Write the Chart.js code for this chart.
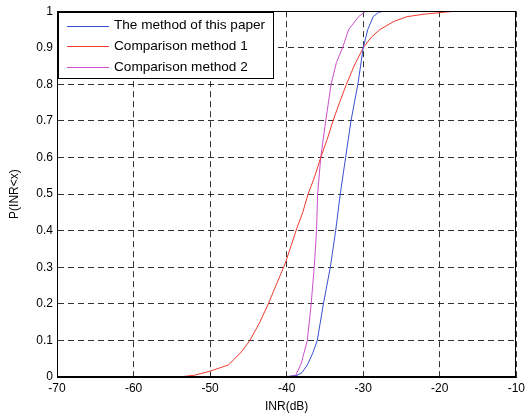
<!DOCTYPE html>
<html>
<head>
<meta charset="utf-8">
<script src="https://cdn.jsdelivr.net/npm/chart.js@4.4.1/dist/chart.umd.min.js"></script>
<style>
  html, body { margin: 0; padding: 0; background: #fff; }
  #wrap { width: 529px; height: 419px; }
</style>
</head>
<body>
<div id="wrap"><canvas id="myChart" width="529" height="419"></canvas></div>
<script>
// series names
var seriesNames = ["The method of this paper", "Comparison method 1", "Comparison method 2"];

// x ticks / y ticks
var xTicks = [-70, -60, -50, -40, -30, -20, -10];
var yTicks = [0, 0.1, 0.2, 0.3, 0.4, 0.5, 0.6, 0.7, 0.8, 0.9, 1];

// blue curve - method of this paper
var blueX = [-41.2, -38.8, -38.0, -37.3, -36.6, -36.0, -35.2, -34.3, -33.6, -33.0, -32.3, -31.6, -30.7, -30.0, -29.4, -28.7, -28.0, -27.3, -26.0];
var blueY = [0, 0.003, 0.012, 0.033, 0.065, 0.10, 0.20, 0.30, 0.40, 0.50, 0.60, 0.70, 0.80, 0.90, 0.95, 0.985, 0.997, 1, 1];

// red curve - comparison method 1
var redX = [-63.7, -54.0, -52.0, -50.0, -47.6, -45.9, -44.8, -43.5, -42.4, -41.3, -40.2, -39.4, -38.7, -37.9, -37.2, -36.3, -35.55, -34.7, -33.95, -33.1, -32.2, -31.2, -30.0, -28.9, -27.8, -26.0, -24.3, -22.0, -20.0, -18.5, -17.5];
var redY = [0, 0, 0.005, 0.016, 0.033, 0.069, 0.10, 0.15, 0.20, 0.255, 0.31, 0.36, 0.405, 0.45, 0.50, 0.55, 0.60, 0.65, 0.70, 0.75, 0.80, 0.85, 0.90, 0.93, 0.95, 0.972, 0.985, 0.992, 0.996, 0.999, 1];

// magenta curve - comparison method 2
var magX = [-40.0, -38.8, -38.1, -37.3, -36.8, -36.4, -36.1, -35.95, -35.55, -34.9, -34.2, -33.5, -32.7, -31.9, -30.6, -29.7, -29.0];
var magY = [0, 0.005, 0.037, 0.10, 0.20, 0.30, 0.40, 0.50, 0.60, 0.70, 0.80, 0.86, 0.90, 0.95, 0.985, 1, 1];

var colors = ["#3a4fd0", "#f03a2e", "#cc4fcc"];

function toPoints(xs, ys) {
  var pts = [];
  for (var i = 0; i < xs.length; i++) {
    pts.push({x: xs[i], y: ys[i]});
  }
  return pts;
}

var FONT = "'Liberation Sans', Arial, sans-serif";

// box around plot + legend inside top-left
var boxPlugin = {
  id: "boxPlugin",
  afterDraw: function (chart) {
    var ctx = chart.ctx;
    var a = chart.chartArea;
    ctx.save();
    ctx.strokeStyle = "#000";
    ctx.lineWidth = 1;
    ctx.setLineDash([]);
    ctx.strokeRect(Math.round(a.left) + 0.5, Math.round(a.top) + 0.5,
      Math.round(a.right - a.left) - 1, Math.round(a.bottom - a.top) - 1);

    // legend
    var lx = a.left + 1, ly = a.top + 1, lw = 215, lh = 66;
    ctx.fillStyle = "#fff";
    ctx.fillRect(lx, ly, lw, lh);
    ctx.strokeRect(Math.round(lx) + 0.5, Math.round(ly) + 0.5, lw, lh);
    ctx.font = "13.6px " + FONT;
    ctx.textBaseline = "middle";
    ctx.textAlign = "left";
    for (var i = 0; i < chart.data.datasets.length; i++) {
      var ds = chart.data.datasets[i];
      var yy = ly + 13.5 + i * 20.7;
      ctx.strokeStyle = ds.borderColor;
      ctx.beginPath();
      ctx.moveTo(lx + 9, Math.round(yy) + 0.5);
      ctx.lineTo(lx + 51, Math.round(yy) + 0.5);
      ctx.stroke();
      ctx.fillStyle = "#000";
      ctx.fillText(ds.label, lx + 56, yy);
    }
    ctx.restore();
  }
};

new Chart("myChart", {
  type: "scatter",
  data: {
    datasets: [
      { label: seriesNames[0], data: toPoints(blueX, blueY), borderColor: colors[0], showLine: true, borderWidth: 1, pointRadius: 0, tension: 0 },
      { label: seriesNames[1], data: toPoints(redX, redY), borderColor: colors[1], showLine: true, borderWidth: 1, pointRadius: 0, tension: 0 },
      { label: seriesNames[2], data: toPoints(magX, magY), borderColor: colors[2], showLine: true, borderWidth: 1, pointRadius: 0, tension: 0 }
    ]
  },
  plugins: [boxPlugin],
  options: {
    responsive: false,
    animation: false,
    layout: { padding: { top: 11, right: 8, left: 0, bottom: 0 } },
    plugins: {
      legend: { display: false },
      tooltip: { enabled: false }
    },
    scales: {
      x: {
        type: "linear",
        min: -70, max: -10,
        afterBuildTicks: function (scale) { scale.ticks = xTicks.map(function (v) { return {value: v}; }); },
        afterFit: function (scale) { scale.height = 42; },
        grid: { color: "rgba(0,0,0,0.8)", lineWidth: 1, drawTicks: false },
        border: { display: true, color: "#000", dash: [6, 4] },
        ticks: { color: "#000", font: { family: FONT, size: 12 }, padding: 4, maxRotation: 0 },
        title: { display: true, text: "INR(dB)", color: "#000", font: { family: FONT, size: 12 }, padding: { top: 1, bottom: 5 } }
      },
      y: {
        type: "linear",
        min: 0, max: 1,
        afterBuildTicks: function (scale) { scale.ticks = yTicks.map(function (v) { return {value: v}; }); },
        afterFit: function (scale) { scale.width = 57; },
        grid: { color: "rgba(0,0,0,0.8)", lineWidth: 1, drawTicks: false },
        border: { display: true, color: "#000", dash: [6, 4] },
        ticks: { color: "#000", font: { family: FONT, size: 12 }, padding: 4,
          callback: function (v) { return String(Math.round(v * 10) / 10); } },
        title: { display: true, text: "P(INR<x)", color: "#000", font: { family: FONT, size: 12 }, padding: { top: 7, bottom: 0 } }
      }
    }
  }
});
</script>
</body>
</html>
